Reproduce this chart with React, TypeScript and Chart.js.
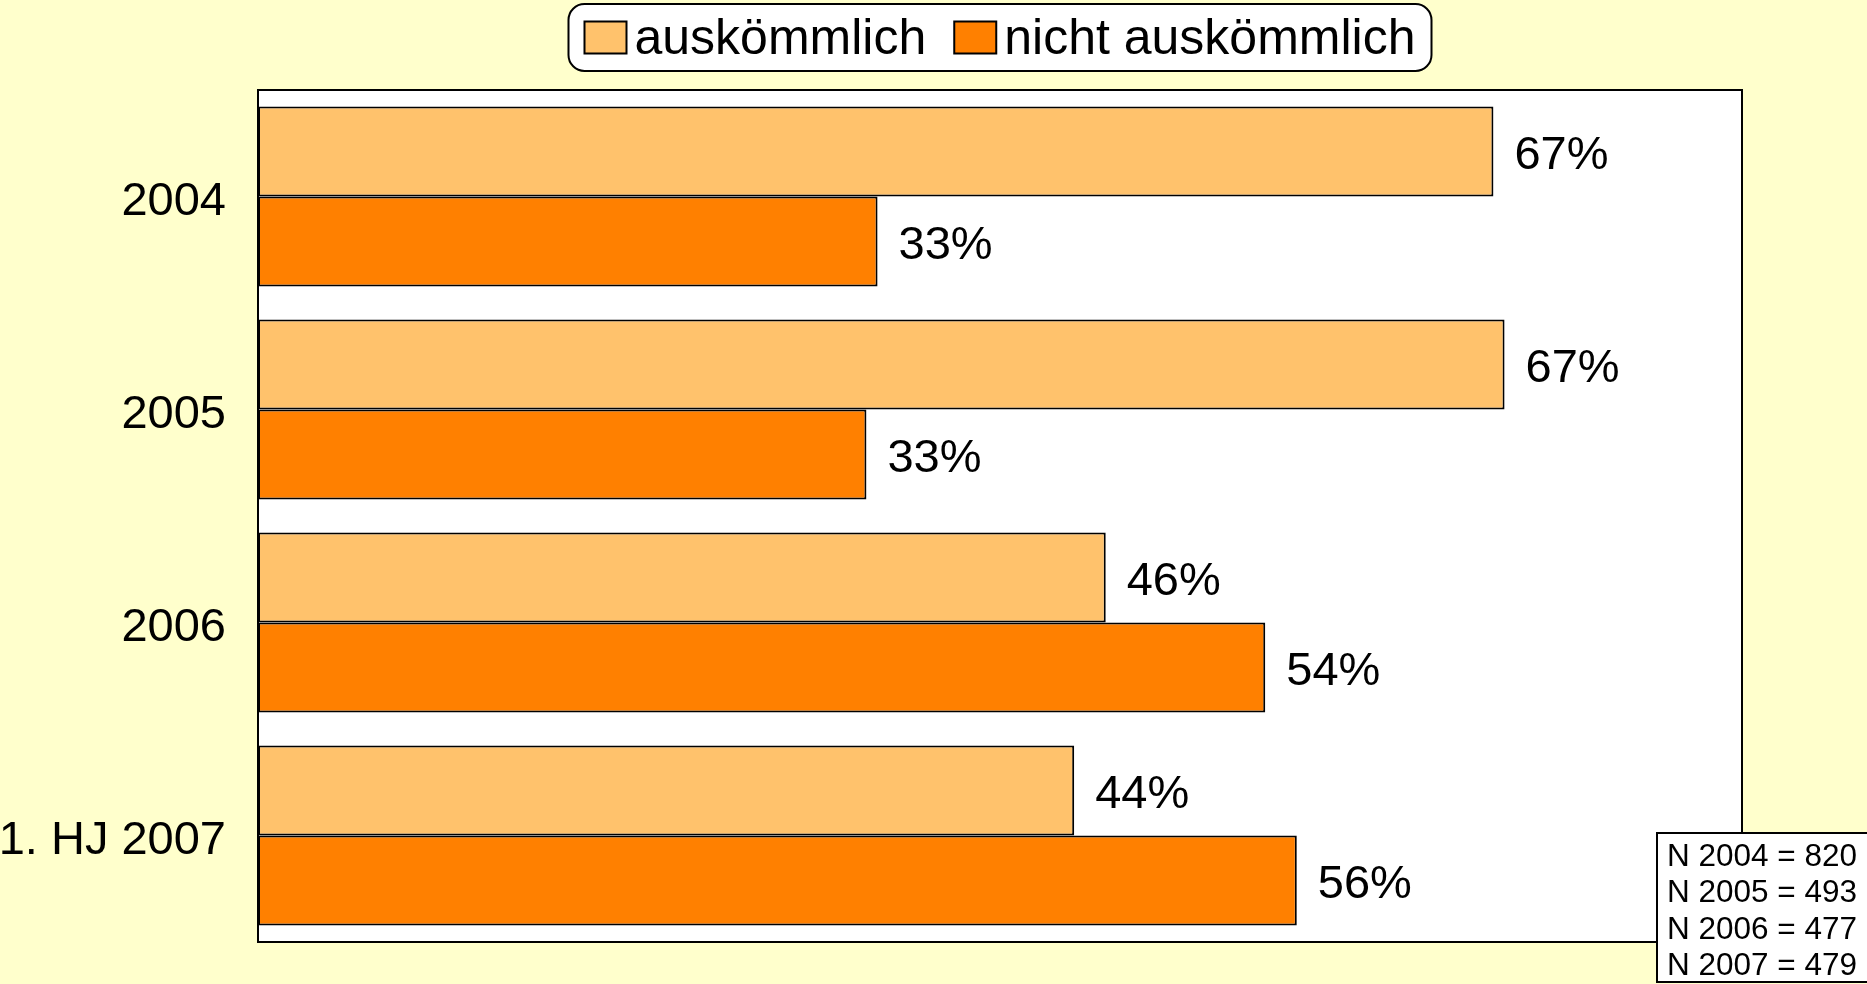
import { useEffect, useRef } from "react";
import { Chart, registerables } from "chart.js";

Chart.register(...registerables);

const categories = ["2004", "2005", "2006", "1. HJ 2007"];
const seriesNames = ["auskömmlich", "nicht auskömmlich"];
const auskoemmlich = [66.6, 67.2, 45.7, 44.0];
const nichtAuskoemmlich = [33.4, 32.8, 54.3, 56.0];
const sampleNotes = ["N 2004 = 820", "N 2005 = 493", "N 2006 = 477", "N 2007 = 479"];
const xMax = 80;

const FONT = "'Liberation Sans', Arial, Helvetica, sans-serif";
const BG = "#FFFFCC";
const LIGHT = "#FFC26C";
const DARK = "#FF8000";

function roundRect(ctx: CanvasRenderingContext2D, x: number, y: number, w: number, h: number, r: number) {
  ctx.beginPath();
  ctx.moveTo(x + r, y);
  ctx.lineTo(x + w - r, y);
  ctx.arcTo(x + w, y, x + w, y + r, r);
  ctx.lineTo(x + w, y + h - r);
  ctx.arcTo(x + w, y + h, x + w - r, y + h, r);
  ctx.lineTo(x + r, y + h);
  ctx.arcTo(x, y + h, x, y + h - r, r);
  ctx.lineTo(x, y + r);
  ctx.arcTo(x, y, x + r, y, r);
  ctx.closePath();
}

const backgroundPlugin = {
  id: "bgPlugin",
  beforeDraw(chart: any) {
    const { ctx, chartArea: a } = chart;
    ctx.save();
    ctx.fillStyle = BG;
    ctx.fillRect(0, 0, chart.width, chart.height);
    ctx.fillStyle = "#FFFFFF";
    ctx.fillRect(a.left, a.top, a.right - a.left, a.bottom - a.top);
    ctx.restore();
  },
  beforeDatasetsDraw(chart: any) {
    const { ctx, chartArea: a } = chart;
    ctx.save();
    ctx.strokeStyle = "#000";
    ctx.lineWidth = 2;
    ctx.strokeRect(a.left, a.top, a.right - a.left, a.bottom - a.top);
    ctx.restore();
  },
};

const valueLabelPlugin = {
  id: "valueLabels",
  afterDatasetsDraw(chart: any) {
    const { ctx } = chart;
    ctx.save();
    ctx.font = `47px ${FONT}`;
    ctx.fillStyle = "#000";
    ctx.textAlign = "left";
    ctx.textBaseline = "middle";
    chart.data.datasets.forEach((ds: any, di: number) => {
      const meta = chart.getDatasetMeta(di);
      meta.data.forEach((bar: any, i: number) => {
        const v = ds.data[i];
        ctx.fillText(`${Math.round(v)}%`, bar.x + 21, bar.y + 5);
      });
    });
    ctx.restore();
  },
};

const legendPlugin = {
  id: "customLegend",
  afterDraw(chart: any) {
    const { ctx, chartArea: a } = chart;
    const fontSize = 50;
    const sw = 42;
    const sh = 32;
    const gapText = 8;
    const gapItem = 28;
    const padX = 16;
    const boxTop = 4;
    const boxH = 67;
    ctx.save();
    ctx.font = `${fontSize}px ${FONT}`;
    const items = chart.data.datasets.map((ds: any) => ({
      label: ds.label,
      color: ds.backgroundColor,
      w: ctx.measureText(ds.label).width,
    }));
    let total = padX * 2;
    items.forEach((it: any, i: number) => {
      total += sw + gapText + it.w + (i > 0 ? gapItem : 0);
    });
    const cx = (a.left + a.right) / 2;
    const x0 = cx - total / 2;
    roundRect(ctx, x0, boxTop, total, boxH, 16);
    ctx.fillStyle = "#FFFFFF";
    ctx.fill();
    ctx.lineWidth = 2;
    ctx.strokeStyle = "#000";
    ctx.stroke();
    let x = x0 + padX;
    const cy = boxTop + boxH / 2;
    items.forEach((it: any, i: number) => {
      if (i > 0) x += gapItem;
      ctx.fillStyle = it.color;
      ctx.fillRect(x, cy - sh / 2, sw, sh);
      ctx.lineWidth = 2;
      ctx.strokeStyle = "#000";
      ctx.strokeRect(x, cy - sh / 2, sw, sh);
      x += sw + gapText;
      ctx.fillStyle = "#000";
      ctx.textAlign = "left";
      ctx.textBaseline = "middle";
      ctx.fillText(it.label, x, cy + 3);
      x += it.w;
    });
    ctx.restore();
  },
};

const notesPlugin = {
  id: "notesBox",
  afterDraw(chart: any) {
    const { ctx } = chart;
    const bx = chart.width - 210;
    const by = chart.height - 151;
    ctx.save();
    ctx.fillStyle = "#FFFFFF";
    ctx.fillRect(bx, by, 220, 149);
    ctx.strokeStyle = "#000";
    ctx.lineWidth = 2;
    ctx.strokeRect(bx, by, 220, 149);
    ctx.font = `31.5px ${FONT}`;
    ctx.fillStyle = "#000";
    ctx.textAlign = "left";
    ctx.textBaseline = "middle";
    sampleNotes.forEach((t, i) => {
      ctx.fillText(t, bx + 10, by + 24 + i * 36.5);
    });
    ctx.restore();
  },
};

export default function App() {
  const ref = useRef<HTMLCanvasElement | null>(null);
  useEffect(() => {
    if (!ref.current) return;
    const chart = new Chart(ref.current, {
      type: "bar",
      data: {
        labels: categories,
        datasets: [
          {
            label: seriesNames[0],
            data: auskoemmlich,
            backgroundColor: LIGHT,
            borderColor: "#000",
            borderWidth: 2,
            borderSkipped: false,
            categoryPercentage: 0.845,
            barPercentage: 1,
          },
          {
            label: seriesNames[1],
            data: nichtAuskoemmlich,
            backgroundColor: DARK,
            borderColor: "#000",
            borderWidth: 2,
            borderSkipped: false,
            categoryPercentage: 0.845,
            barPercentage: 1,
          },
        ],
      },
      options: {
        indexAxis: "y",
        responsive: false,
        animation: false,
        events: [],
        devicePixelRatio: 1,
        layout: { padding: { top: 90, right: 125, bottom: 42, left: 0 } },
        plugins: {
          legend: { display: false },
          tooltip: { enabled: false },
        },
        scales: {
          x: { display: false, min: 0, max: xMax },
          y: {
            grid: { display: false },
            border: { display: false },
            ticks: {
              color: "#000",
              padding: 24,
              labelOffset: 6,
              font: { family: FONT, size: 47 },
            },
            afterFit(scale: any) {
              scale.width = 258;
              scale.paddingTop = 0;
              scale.paddingBottom = 0;
            },
          },
        },
      },
      plugins: [backgroundPlugin, valueLabelPlugin, legendPlugin, notesPlugin],
    } as any);
    return () => chart.destroy();
  }, []);
  return (
    <div style={{ position: "fixed", left: 0, top: 0, width: 1867, height: 984, background: BG }}>
      <canvas ref={ref} width={1867} height={984} style={{ width: 1867, height: 984, display: "block" }} />
    </div>
  );
}
